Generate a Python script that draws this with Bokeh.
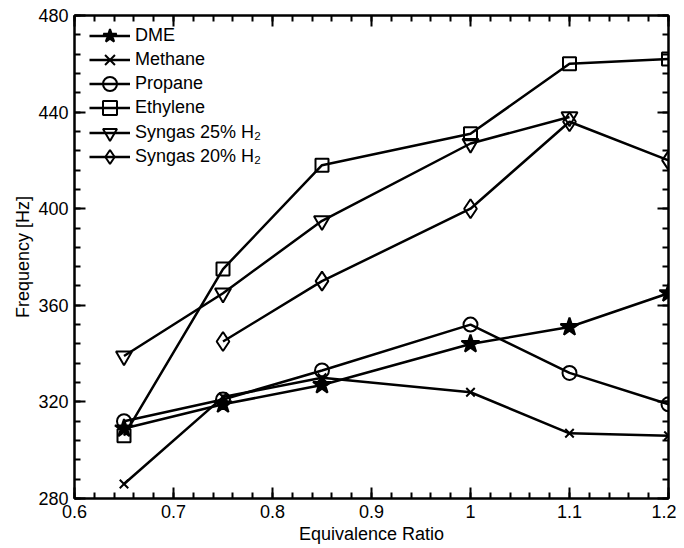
import numpy as np
from bokeh.plotting import figure
from bokeh.models import LinearAxis, FixedTicker, CustomJSTickFormatter, Legend, LegendItem
from bokeh.embed import file_html
from bokeh.resources import INLINE

# ---- data ----
phi_all = [0.65, 0.75, 0.85, 1.0, 1.1, 1.2]
dme = [309, 319, 327, 344, 351, 365]
methane = [286, 322, 330, 324, 307, 306]
propane = [312, 321, 333, 352, 332, 319]
ethylene = [306, 375, 418, 431, 460, 462]
phi_syn25 = [0.65, 0.75, 0.85, 1.0, 1.1]
syngas25 = [339, 365, 395, 427, 438]
phi_syn20 = [0.75, 0.85, 1.0, 1.1, 1.2]
syngas20 = [345, 370, 400, 436, 420]

x_ticks = [0.6, 0.7, 0.8, 0.9, 1.0, 1.1, 1.2]
y_ticks = [280, 320, 360, 400, 440, 480]
x_label = "Equivalence Ratio"
y_label = "Frequency [Hz]"

FONT = "Liberation Sans"
FS = "18px"

x_minor = [round(v, 3) for v in np.arange(0.6, 1.2001, 0.02)]
y_minor = list(range(280, 481, 8))

FRAME_H = 483
p = figure(frame_width=594, frame_height=FRAME_H, x_range=(0.6, 1.2), y_range=(280, 480),
           output_backend="svg", toolbar_location=None,
           min_border_left=74, min_border_right=8, min_border_top=15,
           min_border_bottom=42)

p.xgrid.visible = False
p.ygrid.visible = False
p.outline_line_color = "black"
p.outline_line_width = 2
p.background_fill_color = "white"
p.border_fill_color = "white"

xt = FixedTicker(ticks=x_ticks, minor_ticks=x_minor)
yt = FixedTicker(ticks=y_ticks, minor_ticks=y_minor)
fmt = CustomJSTickFormatter(code="return String(Number(tick.toFixed(2)));")


def style_axis(ax, labels=True):
    ax.axis_line_width = 2
    ax.axis_line_color = "black"
    ax.major_tick_in = 11
    ax.major_tick_out = 0
    ax.minor_tick_in = 6
    ax.minor_tick_out = 0
    ax.major_tick_line_width = 2
    ax.minor_tick_line_width = 2
    ax.major_tick_line_color = "black"
    ax.minor_tick_line_color = "black"
    if labels:
        ax.major_label_text_font = FONT
        ax.major_label_text_font_size = FS
        ax.major_label_text_color = "black"
        ax.axis_label_text_font = FONT
        ax.axis_label_text_font_size = FS
        ax.axis_label_text_font_style = "normal"
        ax.axis_label_text_color = "black"
    else:
        ax.major_label_text_color = None
        ax.major_label_text_alpha = 0
        ax.major_label_text_font_size = "2px"
        ax.major_label_standoff = 0


p.xaxis.ticker = xt
p.xaxis.formatter = fmt
p.yaxis.ticker = yt
p.xaxis.axis_label = x_label
p.yaxis.axis_label = y_label
style_axis(p.xaxis[0])
style_axis(p.yaxis[0])
p.xaxis.major_label_standoff = 6
p.xaxis.axis_label_standoff = 3
p.yaxis.major_label_standoff = 6
p.yaxis.axis_label_standoff = 2

top = LinearAxis(ticker=xt, formatter=fmt)
right = LinearAxis(ticker=yt)
style_axis(top, labels=False)
style_axis(right, labels=False)
p.add_layout(top, "above")
p.add_layout(right, "right")

LW = 2.5
series = [
    (phi_all, dme, "DME", "star", 19, "black"),
    (phi_all, methane, "Methane", "x", 12, None),
    (phi_all, propane, "Propane", "circle", 14, None),
    (phi_all, ethylene, "Ethylene", "square", 13, None),
    (phi_syn25, syngas25, "Syngas 25% H\u2082", "inverted_triangle", 16, None),
    (phi_syn20, syngas20, "Syngas 20% H\u2082", "diamond", 19, None),
]

# legend layout (screen px): one single-row legend per series, stacked
ROW0_FROM_TOP = 20   # centre of first row, below frame top
ROW_STEP = 24.3
GLYPH_H = 35

for i, (xs, ys, name, marker, size, fill) in enumerate(series):
    lr = p.line(xs, ys, line_color="black", line_width=LW)
    sr = p.scatter(xs, ys, marker=marker, size=size, line_color="black",
                   line_width=2, fill_color=fill)
    centre = ROW0_FROM_TOP + ROW_STEP * i
    y_bottom = FRAME_H - (centre + GLYPH_H / 2)
    lg = Legend(items=[LegendItem(label=name, renderers=[lr, sr])],
                location=(15, y_bottom))
    lg.border_line_color = None
    lg.background_fill_alpha = 0
    lg.margin = 0
    lg.padding = 0
    lg.spacing = 0
    lg.glyph_width = 41
    lg.glyph_height = GLYPH_H
    lg.label_height = 20
    lg.label_standoff = 5
    lg.label_text_font = FONT
    lg.label_text_font_size = FS
    lg.label_text_color = "black"
    p.add_layout(lg)

open("out.html", "w").write(file_html(p, INLINE))
